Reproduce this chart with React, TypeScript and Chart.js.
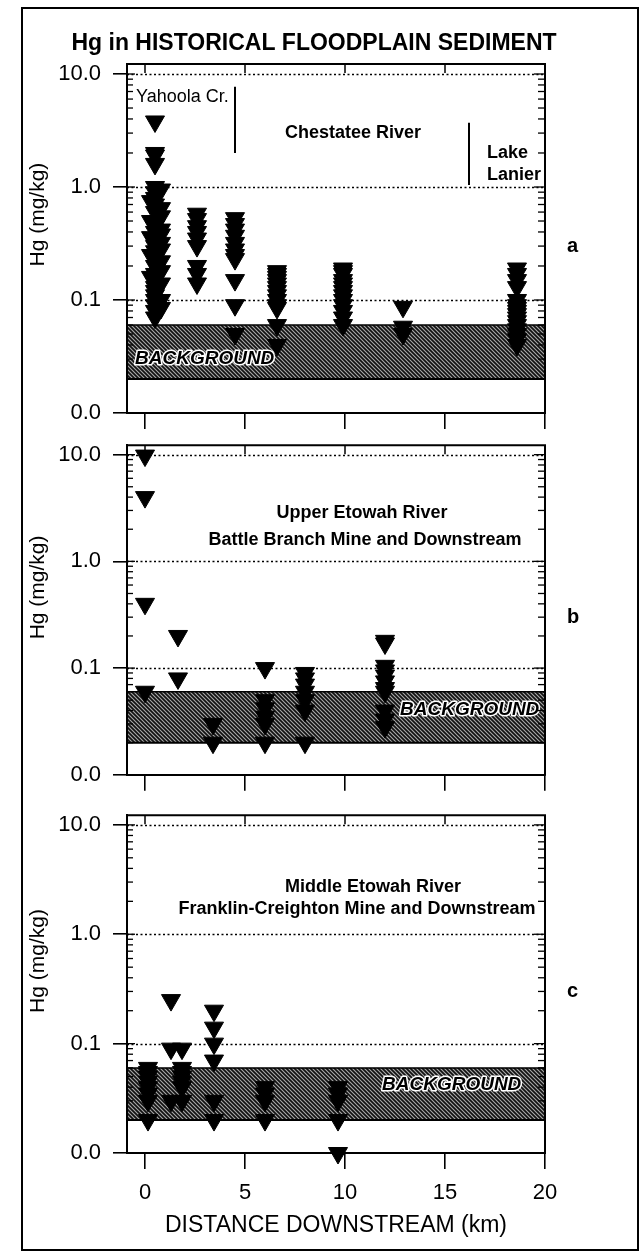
import React, { useEffect, useRef } from 'react';
import { Chart, registerables } from 'chart.js';

Chart.register(...registerables);

const FONT = "'Liberation Sans', Arial, Helvetica, sans-serif";

// ---------- axes ----------
const xTickValues = [0, 5, 10, 15, 20];
const xTickLabels = ['0', '5', '10', '15', '20'];
const yTickValues = [0.01, 0.1, 1, 10];
const yTickLabels = ['0.0', '0.1', '1.0', '10.0'];
const gridValues = [0.1, 1, 10];
const backgroundRange = [0.02, 0.06];
const chartTitle = 'Hg in HISTORICAL FLOODPLAIN SEDIMENT';
const xAxisTitle = 'DISTANCE DOWNSTREAM (km)';
const yAxisTitle = 'Hg (mg/kg)';

// ---------- panel a : Yahoola Cr. / Chestatee River / Lake Lanier ----------
const aKm = [0.3, 0.5, 0.8, 2.6, 4.5, 6.6, 9.9, 12.9, 18.6];
const aHg = [
  [0.75, 0.5, 0.36, 0.25, 0.16],
  [3.8, 2.0, 1.9, 1.6, 1.0, 0.9, 0.8, 0.7, 0.6, 0.5, 0.45, 0.4, 0.35, 0.3, 0.27, 0.24, 0.2, 0.17, 0.15, 0.13, 0.12, 0.11, 0.1, 0.09, 0.08, 0.07],
  [0.95, 0.65, 0.55, 0.42, 0.38, 0.32, 0.28, 0.22, 0.18, 0.14, 0.1, 0.085],
  [0.58, 0.52, 0.45, 0.4, 0.35, 0.3, 0.2, 0.17, 0.14],
  [0.53, 0.47, 0.42, 0.37, 0.32, 0.28, 0.25, 0.23, 0.15, 0.09, 0.05],
  [0.18, 0.17, 0.16, 0.15, 0.14, 0.13, 0.12, 0.11, 0.1, 0.09, 0.085, 0.06, 0.04],
  [0.19, 0.18, 0.17, 0.15, 0.14, 0.13, 0.12, 0.11, 0.1, 0.09, 0.08, 0.07, 0.06],
  [0.087, 0.058, 0.05],
  [0.19, 0.17, 0.15, 0.13, 0.1, 0.09, 0.085, 0.08, 0.075, 0.07, 0.065, 0.06, 0.055, 0.05, 0.045, 0.04],
];

// ---------- panel b : Upper Etowah River ----------
const bKm = [0, 1.65, 3.4, 6.0, 8.0, 12.0];
const bHg = [
  [9.8, 4.0, 0.4, 0.06],
  [0.2, 0.08],
  [0.03, 0.02],
  [0.1, 0.05, 0.042, 0.035, 0.03, 0.02],
  [0.09, 0.08, 0.07, 0.06, 0.05, 0.04, 0.02],
  [0.18, 0.17, 0.105, 0.095, 0.085, 0.075, 0.065, 0.06, 0.04, 0.033, 0.028],
];

// ---------- panel c : Middle Etowah River ----------
const cKm = [0.15, 1.3, 1.85, 3.45, 6.0, 9.65];
const cHg = [
  [0.06, 0.055, 0.05, 0.045, 0.04, 0.035, 0.03, 0.02],
  [0.25, 0.09, 0.03],
  [0.09, 0.06, 0.055, 0.05, 0.045, 0.04, 0.03],
  [0.2, 0.14, 0.1, 0.07, 0.03, 0.02],
  [0.04, 0.035, 0.03, 0.02],
  [0.04, 0.035, 0.03, 0.02, 0.01],
];

type Note = { text: string; x: number; y: number; align: CanvasTextAlign; bold: boolean };
type Sep = { x: number; y1: number; y2: number };

interface PanelSpec {
  key: string;
  km: number[];
  hg: number[][];
  top: number;
  height: number;
  padTop: number;
  xBoxHeight: number;
  showXLabels: boolean;
  letter: string;
  notes: Note[];
  seps: Sep[];
  bgLabel: { x: number; y: number };
  showTitle: boolean;
}

const panels: PanelSpec[] = [
  {
    key: 'a', km: aKm, hg: aHg, top: 0, height: 440, padTop: 64, xBoxHeight: 27,
    showXLabels: false, letter: 'a', showTitle: true,
    notes: [
      { text: 'Yahoola Cr.', x: -0.45, y: 6.3, align: 'left', bold: false },
      { text: 'Chestatee River', x: 10.4, y: 3.0, align: 'center', bold: true },
      { text: 'Lake', x: 17.1, y: 2.0, align: 'left', bold: true },
      { text: 'Lanier', x: 17.1, y: 1.28, align: 'left', bold: true },
    ],
    seps: [
      { x: 4.5, y1: 7.7, y2: 2.0 },
      { x: 16.2, y1: 3.7, y2: 1.04 },
    ],
    bgLabel: { x: -0.5, y: 0.03 },
  },
  {
    key: 'b', km: bKm, hg: bHg, top: 420, height: 380, padTop: 13, xBoxHeight: 18,
    showXLabels: false, letter: 'b', showTitle: false,
    notes: [
      { text: 'Upper Etowah River', x: 10.85, y: 2.83, align: 'center', bold: true },
      { text: 'Battle Branch Mine and Downstream', x: 11.0, y: 1.6, align: 'center', bold: true },
    ],
    seps: [],
    bgLabel: { x: 12.75, y: 0.041 },
  },
  {
    key: 'c', km: cKm, hg: cHg, top: 790, height: 461, padTop: 13, xBoxHeight: 98,
    showXLabels: true, letter: 'c', showTitle: false,
    notes: [
      { text: 'Middle Etowah River', x: 11.4, y: 2.73, align: 'center', bold: true },
      { text: 'Franklin-Creighton Mine and Downstream', x: 10.6, y: 1.71, align: 'center', bold: true },
    ],
    seps: [],
    bgLabel: { x: 11.85, y: 0.0425 },
  },
];

function makeHatch(ctx: CanvasRenderingContext2D): CanvasPattern | string {
  const c = document.createElement('canvas');
  c.width = 4;
  c.height = 4;
  const g = c.getContext('2d');
  if (!g) return '#606060';
  g.fillStyle = '#a8a8a8';
  g.fillRect(0, 0, 4, 4);
  g.strokeStyle = '#111';
  g.lineWidth = 1.7;
  g.beginPath();
  g.moveTo(-1, -1); g.lineTo(5, 5);
  g.moveTo(-1, 3); g.lineTo(1, 5);
  g.moveTo(3, -1); g.lineTo(5, 1);
  g.stroke();
  return ctx.createPattern(c, 'repeat') || '#606060';
}

function line(ctx: CanvasRenderingContext2D, x1: number, y1: number, x2: number, y2: number) {
  ctx.beginPath();
  ctx.moveTo(x1, y1);
  ctx.lineTo(x2, y2);
  ctx.stroke();
}

function makePlugin(spec: PanelSpec) {
  return {
    id: 'deco' + spec.key,
    beforeDatasetsDraw(chart: any) {
      const { ctx, chartArea: ca } = chart;
      const xs = chart.scales.x;
      const ys = chart.scales.y;
      ctx.save();
      // background band
      const yHi = ys.getPixelForValue(backgroundRange[1]);
      const yLo = ys.getPixelForValue(backgroundRange[0]);
      ctx.fillStyle = makeHatch(ctx);
      ctx.fillRect(ca.left + 1, yHi, ca.right - ca.left - 2, yLo - yHi);
      ctx.strokeStyle = '#000';
      ctx.lineWidth = 1.5;
      line(ctx, ca.left, yHi, ca.right, yHi);
      ctx.lineWidth = 2;
      line(ctx, ca.left, yLo, ca.right, yLo);
      // BACKGROUND label
      ctx.save();
      ctx.beginPath();
      ctx.rect(ca.left, ca.top, ca.right - ca.left, ca.bottom - ca.top);
      ctx.clip();
      ctx.font = `italic bold 19px ${FONT}`;
      ctx.textAlign = 'left';
      ctx.textBaseline = 'middle';
      ctx.lineJoin = 'round';
      ctx.lineWidth = 3;
      ctx.strokeStyle = '#fff';
      const bx = xs.getPixelForValue(spec.bgLabel.x);
      const by = ys.getPixelForValue(spec.bgLabel.y);
      ctx.strokeText('BACKGROUND', bx, by);
      ctx.fillStyle = '#000';
      ctx.fillText('BACKGROUND', bx, by);
      ctx.restore();
      // dotted grid lines
      ctx.strokeStyle = '#000';
      ctx.lineWidth = 1.3;
      ctx.setLineDash([2, 2.5]);
      for (const v of gridValues) {
        const py = Math.round(ys.getPixelForValue(v)) + 0.5;
        line(ctx, ca.left, py, ca.right, py);
      }
      ctx.setLineDash([]);
      // minor ticks (log)
      ctx.lineWidth = 1.3;
      for (let e = -2; e <= 1; e++) {
        for (let m = 1; m <= 9; m++) {
          const v = m * Math.pow(10, e);
          if (v > ys.max) break;
          const py = ys.getPixelForValue(v);
          const major = m === 1;
          line(ctx, ca.left, py, ca.left + (major ? 8 : 6), py);
          line(ctx, ca.right, py, ca.right - (major ? 11 : 7), py);
        }
      }
      // top and right frame
      ctx.lineWidth = 2;
      line(ctx, ca.left - 1, ca.top, ca.right + 1, ca.top);
      line(ctx, ca.right, ca.top, ca.right, ca.bottom + 1);
      // inner top ticks
      ctx.lineWidth = 1.5;
      for (const v of xTickValues) {
        const px = xs.getPixelForValue(v);
        line(ctx, px, ca.top, px, ca.top + 9);
      }
      ctx.restore();
    },
    afterDraw(chart: any) {
      const { ctx, chartArea: ca } = chart;
      const xs = chart.scales.x;
      const ys = chart.scales.y;
      ctx.save();
      ctx.fillStyle = '#000';
      ctx.strokeStyle = '#000';
      ctx.textBaseline = 'middle';
      for (const n of spec.notes) {
        ctx.font = `${n.bold ? 'bold ' : ''}18px ${FONT}`;
        ctx.textAlign = n.align;
        ctx.fillText(n.text, xs.getPixelForValue(n.x), ys.getPixelForValue(n.y));
      }
      ctx.lineWidth = 2;
      for (const s of spec.seps) {
        const px = xs.getPixelForValue(s.x);
        line(ctx, px, ys.getPixelForValue(s.y1), px, ys.getPixelForValue(s.y2));
      }
      // panel letter
      ctx.font = `bold 20px ${FONT}`;
      ctx.textAlign = 'left';
      ctx.fillText(spec.letter, ca.right + 22, ys.getPixelForValue(0.3));
      // y-axis title
      ctx.save();
      ctx.translate(38, ys.getPixelForValue(0.57));
      ctx.rotate(-Math.PI / 2);
      ctx.font = `21px ${FONT}`;
      ctx.textAlign = 'center';
      ctx.fillText(yAxisTitle, 0, 0);
      ctx.restore();
      if (spec.showTitle) {
        ctx.font = `bold 23px ${FONT}`;
        ctx.textAlign = 'center';
        ctx.textBaseline = 'alphabetic';
        ctx.fillText(chartTitle, 314, 50);
      }
      ctx.restore();
    },
  };
}

function Panel({ spec }: { spec: PanelSpec }) {
  const ref = useRef<HTMLCanvasElement>(null);
  useEffect(() => {
    if (!ref.current) return;
    const data = spec.km.flatMap((k, i) => spec.hg[i].map((v) => ({ x: k, y: v })));
    const chart = new Chart(ref.current, {
      type: 'scatter',
      data: {
        datasets: [
          {
            data,
            pointStyle: 'triangle',
            pointRotation: 180,
            pointRadius: 11,
            pointBackgroundColor: '#000',
            pointBorderColor: '#000',
            pointBorderWidth: 1,
            clip: false,
          } as any,
        ],
      },
      options: {
        responsive: false,
        animation: false,
        events: [],
        layout: { padding: { left: 0, right: 99, top: spec.padTop, bottom: 0 } },
        plugins: {
          legend: { display: false },
          tooltip: { enabled: false },
          title: { display: false },
        },
        scales: {
          x: {
            type: 'linear',
            position: 'bottom',
            min: -0.9,
            max: 20,
            bounds: 'data',
            afterBuildTicks: (s: any) => {
              s.ticks = xTickValues.map((v) => ({ value: v }));
            },
            afterFit: (s: any) => {
              s.height = spec.xBoxHeight;
            },
            grid: { drawOnChartArea: false, drawTicks: true, tickLength: 16, color: '#000', lineWidth: 1.6 },
            border: { display: true, color: '#000', width: 2 },
            ticks: {
              display: spec.showXLabels,
              color: '#000',
              font: { family: FONT, size: 22 },
              padding: 11,
              maxRotation: 0,
              autoSkip: false,
              callback: (_v: any, i: number) => xTickLabels[i],
            },
            title: {
              display: spec.showXLabels,
              text: xAxisTitle,
              color: '#000',
              font: { family: FONT, size: 23 },
              padding: { top: 0, bottom: 12 },
            },
          } as any,
          y: {
            type: 'logarithmic',
            position: 'left',
            min: 0.01,
            max: 12.26,
            bounds: 'data',
            afterBuildTicks: (s: any) => {
              s.ticks = yTickValues.map((v) => ({ value: v }));
            },
            afterFit: (s: any) => {
              s.width = 127;
            },
            grid: { drawOnChartArea: false, drawTicks: true, tickLength: 14, color: '#000', lineWidth: 1.6 },
            border: { display: true, color: '#000', width: 2 },
            ticks: {
              color: '#000',
              font: { family: FONT, size: 22 },
              padding: 12,
              autoSkip: false,
              callback: (_v: any, i: number) => yTickLabels[i],
            },
          } as any,
        },
      },
      plugins: [makePlugin(spec)],
    });
    return () => chart.destroy();
  }, [spec]);
  return (
    <canvas
      ref={ref}
      width={644}
      height={spec.height}
      style={{ position: 'absolute', left: 0, top: spec.top, width: 644, height: spec.height }}
    />
  );
}

export default function App() {
  return (
    <div
      style={{
        position: 'absolute',
        left: 0,
        top: 0,
        width: 644,
        height: 1251,
        background: '#fff',
        overflow: 'hidden',
      }}
    >
      <div
        style={{
          position: 'absolute',
          left: 21,
          top: 7,
          width: 614,
          height: 1240,
          border: '2px solid #000',
        }}
      />
      {panels.map((p) => (
        <Panel key={p.key} spec={p} />
      ))}
    </div>
  );
}
